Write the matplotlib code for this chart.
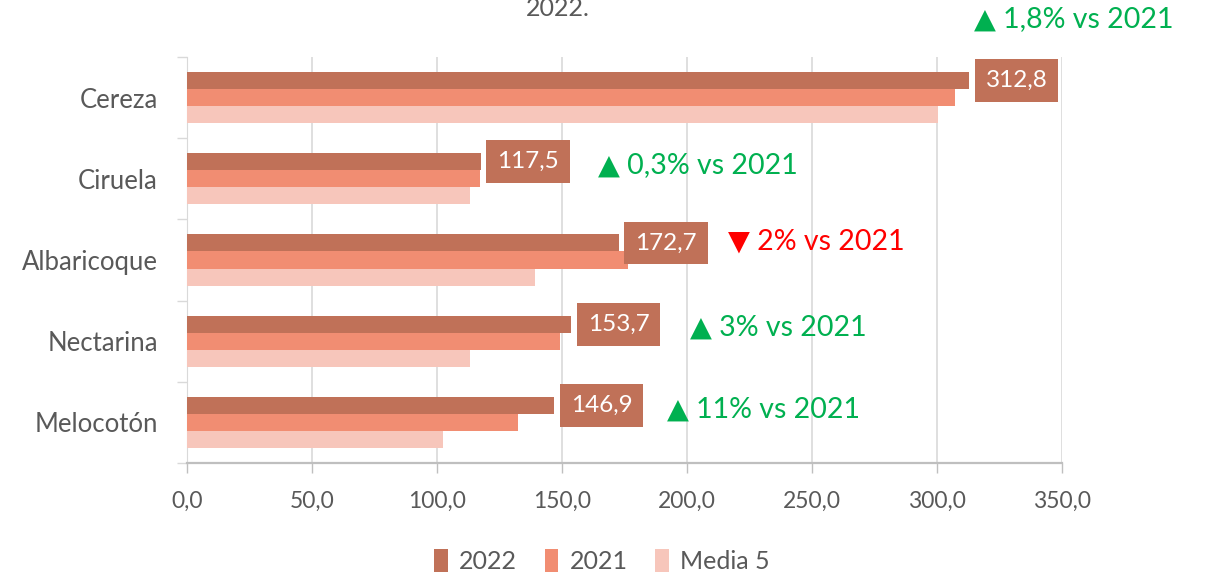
import matplotlib
matplotlib.use("Agg")
import matplotlib.pyplot as plt
import numpy as np
from matplotlib.ticker import FuncFormatter

plt.rcParams['font.family'] = ['Lato', 'DejaVu Sans']

categories = ["Cereza", "Ciruela", "Albaricoque", "Nectarina", "Melocotón"]
series_names = ["2022", "2021", "Media 5"]
v2022 = [312.8, 117.5, 172.7, 153.7, 146.9]
v2021 = [307.2, 117.1, 176.3, 149.2, 132.2]
vmedia = [300.2, 113.2, 139.3, 113.2, 102.5]
value_labels = ["312,8", "117,5", "172,7", "153,7", "146,9"]
annot_texts = ["▲ 1,8% vs 2021", "▲ 0,3% vs 2021", "▼ 2% vs 2021", "▲ 3% vs 2021", "▲ 11% vs 2021"]
annot_up = [True, True, False, True, True]
xticks = [0, 50, 100, 150, 200, 250, 300, 350]

colors = ["#C07158", "#F18D72", "#F7C6BB"]
green = "#00B050"
red = "#FF0000"
gray_text = "#595959"

fig = plt.figure(figsize=(12.11, 5.74), dpi=100)
ax = fig.add_axes([187/1211, 1 - 463/574, (1062-187)/1211, (463-57)/574])

y = np.arange(len(categories))
h = 0.21
for i, (vals, c, name) in enumerate(zip([v2022, v2021, vmedia], colors, series_names)):
    ax.barh(y + (i - 1) * h, vals, height=h, color=c, label=name, zorder=3)

ax.set_xlim(0, 350)
ax.set_ylim(len(categories) - 0.5, -0.5)
ax.set_xticks(xticks)
ax.xaxis.set_major_formatter(FuncFormatter(lambda v, p: f"{v:.1f}".replace(".", ",")))
ax.set_yticks(y)
ax.set_yticklabels(categories)
ax.set_yticks(np.arange(len(categories) + 1) - 0.5, minor=True)
ax.tick_params(axis='y', which='major', length=0, pad=21, labelsize=18.5, labelcolor=gray_text)
ax.tick_params(axis='y', which='minor', length=7, color="#D9D9D9", width=1)
ax.tick_params(axis='x', which='major', length=7, color="#BFBFBF", width=1, pad=13,
               labelsize=16.5, labelcolor=gray_text)
ax.grid(axis='x', color="#D9D9D9", linewidth=1.2, zorder=0)
for s in ['top', 'right']:
    ax.spines[s].set_visible(False)
ax.spines['left'].set_color("#D9D9D9")
ax.spines['bottom'].set_color("#BFBFBF")
ax.spines['bottom'].set_linewidth(1.6)

# value label boxes
for i, (v, lab) in enumerate(zip(v2022, value_labels)):
    ax.text(v + 6.6, y[i] - h, lab, ha='left', va='center', fontsize=17.5, color='white',
            bbox=dict(boxstyle='square,pad=0.45', facecolor=colors[0], edgecolor='none'),
            zorder=5, clip_on=False)

# annotations
annot_x = [315.0, 164.5, 216.5, 201.0, 192.0]
annot_dy = [-0.97, -0.17, -0.23, -0.17, -0.16]
for i, (t, up) in enumerate(zip(annot_texts, annot_up)):
    ax.text(annot_x[i], y[i] + annot_dy[i], t, ha='left', va='center', fontsize=20.5,
            color=green if up else red, family=['Lato', 'DejaVu Sans'], clip_on=False)

# title (partially cut off, as in the reference)
fig.text(558/1211, 1 - 16/574, "2022.", ha='center', va='baseline', fontsize=18, color=gray_text)

leg = fig.legend(loc='center', bbox_to_anchor=(0.497, 1 - 561/574), ncol=3, frameon=False,
                 fontsize=18, handlelength=0.55, handleheight=1.0, columnspacing=1.1,
                 handletextpad=0.45)
for t in leg.get_texts():
    t.set_color(gray_text)

fig.savefig("out.png", dpi=100)
